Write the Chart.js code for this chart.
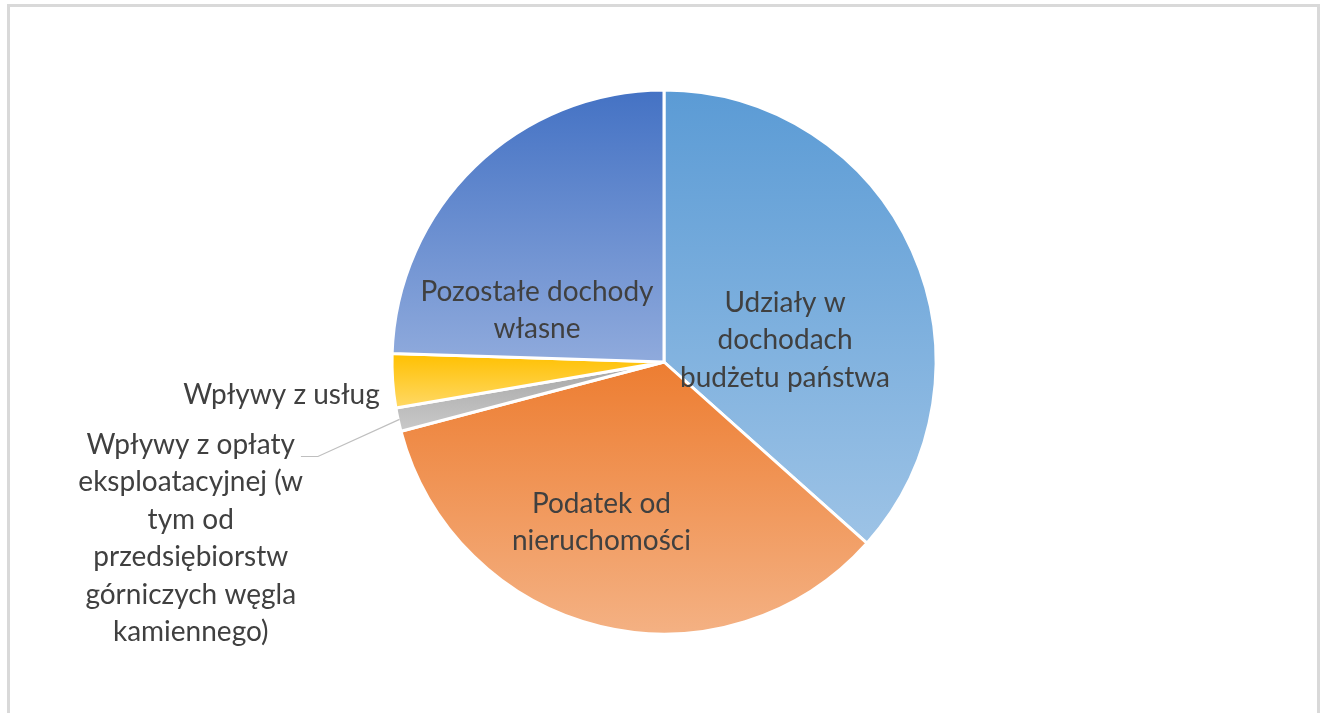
<!DOCTYPE html>
<html>
<head>
<meta charset="utf-8">
<script src="https://cdn.jsdelivr.net/npm/chart.js@4"></script>
<style>
    body { margin: 0; background: #fff; }
    #frame {
        position: absolute; left: 7px; top: 4px; width: 1307px; height: 730px;
        border: 3px solid #d9d9d9; box-sizing: content-box;
    }
    #wrap { position: absolute; left: 0; top: 0; width: 1325px; height: 713px; }
</style>
</head>
<body>
<div id="frame"></div>
<div id="wrap"><canvas id="pie"></canvas></div>
<script>
// slices, clockwise from 12 o'clock
const categories = [
    "Udziały w dochodach budżetu państwa",
    "Podatek od nieruchomości",
    "Wpływy z opłaty eksploatacyjnej (w tym od przedsiębiorstw górniczych węgla kamiennego)",
    "Wpływy z usług",
    "Pozostałe dochody własne"
];
const shares = [36.6, 34.3, 1.4, 3.2, 24.5];

// how the label text wraps, as in the original
const labelLines = [
    ["Udziały w", "dochodach", "budżetu państwa"],
    ["Podatek od", "nieruchomości"],
    ["Wpływy z opłaty", "eksploatacyjnej (w", "tym od", "przedsiębiorstw", "górniczych węgla", "kamiennego)"],
    ["Wpływy z usług"],
    ["Pozostałe dochody", "własne"]
];

const topColors = ["#5B9BD5", "#ED7D31", "#A5A5A5", "#FFC000", "#4472C4"];
const bottomColors = ["#9DC3E6", "#F4B183", "#C9C9C9", "#FFD966", "#8FAADC"];

// label anchor relative to pie centre, in radius units; align of text
const labelPlace = [
    { dx: 0.445, dy: -0.08, align: "center" },
    { dx: -0.23, dy: 0.59, align: "center" },
    { dx: -1.74, dy: 0.648, align: "center", leader: true },
    { dx: -1.045, dy: 0.12, align: "right" },
    { dx: -0.467, dy: -0.19, align: "center" }
];

const RADIUS = 272;
const FONT = "28px Lato, 'Open Sans', sans-serif";
const LINE_H = 37.5;

// vertical gradient over each slice's own extent
function sliceGradient(ctx) {
    const chart = ctx.chart;
    const area = chart.chartArea;
    const i = ctx.dataIndex;
    if (!area) return topColors[i];
    const cx = (area.left + area.right) / 2;
    const cy = (area.top + area.bottom) / 2;
    const total = shares.reduce((a, b) => a + b, 0);
    let start = 0;
    for (let k = 0; k < i; k++) start += shares[k];
    const a0 = -Math.PI / 2 + start / total * 2 * Math.PI;
    const a1 = a0 + shares[i] / total * 2 * Math.PI;
    let ys = [cy];
    for (let s = 0; s <= 60; s++) {
        const a = a0 + (a1 - a0) * s / 60;
        ys.push(cy + RADIUS * Math.sin(a));
    }
    const y0 = Math.min(...ys), y1 = Math.max(...ys);
    const g = chart.ctx.createLinearGradient(0, y0, 0, y1);
    g.addColorStop(0, topColors[i]);
    g.addColorStop(1, bottomColors[i]);
    return g;
}

const sliceLabels = {
    id: "sliceLabels",
    afterDatasetsDraw(chart) {
        const ctx = chart.ctx;
        const meta = chart.getDatasetMeta(0);
        ctx.save();
        ctx.font = FONT;
        ctx.fillStyle = "#404040";
        ctx.textBaseline = "middle";
        meta.data.forEach((arc, i) => {
            const p = arc.getProps(["x", "y", "startAngle", "endAngle", "outerRadius"], true);
            const place = labelPlace[i];
            const lines = labelLines[i];
            const ax = p.x + place.dx * p.outerRadius;
            const ay = p.y + place.dy * p.outerRadius;
            const y0 = ay - (lines.length - 1) * LINE_H / 2;
            ctx.textAlign = place.align;
            lines.forEach((t, j) => ctx.fillText(t, ax, y0 + j * LINE_H));
            if (place.leader) {
                const w = ctx.measureText(lines[0]).width;
                const sx = ax + w / 2 + 6;
                const sy = y0 + 12;
                const mid = (p.startAngle + p.endAngle) / 2;
                const ex = p.x + Math.cos(mid) * p.outerRadius * 0.995;
                const ey = p.y + Math.sin(mid) * p.outerRadius * 0.995;
                ctx.strokeStyle = "#bfbfbf";
                ctx.lineWidth = 1.2;
                ctx.beginPath();
                ctx.moveTo(sx, sy);
                ctx.lineTo(sx + 17, sy);
                ctx.lineTo(ex, ey);
                ctx.stroke();
            }
        });
        ctx.restore();
    }
};

new Chart(document.getElementById("pie"), {
    type: "pie",
    data: {
        labels: categories,
        datasets: [{
            data: shares,
            backgroundColor: sliceGradient,
            borderColor: "#ffffff",
            borderWidth: 3
        }]
    },
    options: {
        responsive: true,
        maintainAspectRatio: false,
        animation: false,
        radius: RADIUS,
        layout: { padding: { left: 3, right: 0, top: 11, bottom: 0 } },
        plugins: {
            legend: { display: false },
            tooltip: { enabled: false }
        }
    },
    plugins: [sliceLabels]
});
</script>
</body>
</html>
